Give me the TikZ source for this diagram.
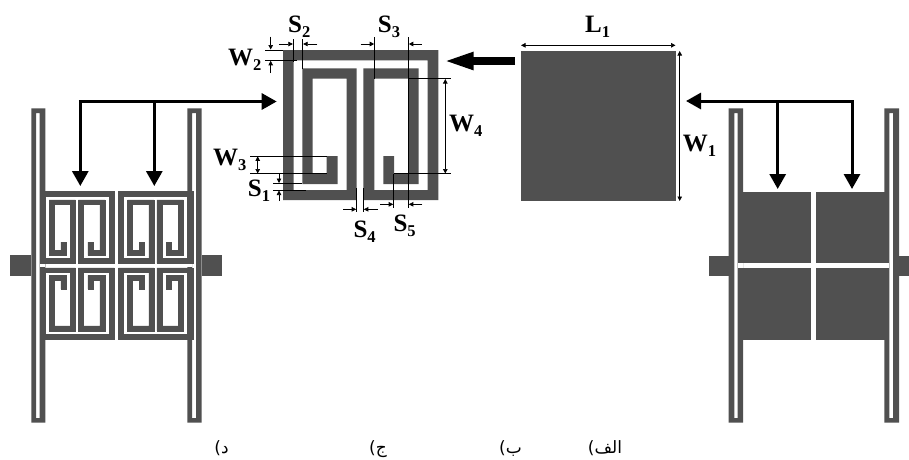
\documentclass[tikz,border=0pt]{standalone}
\usepackage{fontspec}
\setmainfont{Liberation Serif}
\newfontfamily\arabicfont[Script=Arabic]{DejaVu Sans}
\TeXXeTstate=1
\usetikzlibrary{arrows.meta}
\definecolor{metal}{RGB}{80,80,80}
\newcommand{\lab}[2]{\fontsize{25}{25}\selectfont\bfseries #1\raisebox{-5pt}{\fontsize{16.5}{16.5}\selectfont #2}}
\newcommand{\srrpath}{(283,50)--(438.3,50)--(438.3,200)--(363.3,200)--(363.3,68.3)--(418.7,68.3)--(418.7,184)--(383.3,184)--(383.3,156)--(394,156)--(394,173.5)--(408.3,173.5)--(408.3,78.5)--(374.3,78.5)--(374.3,190)--(427.7,190)--(427.7,60.3)--(293.5,60.3)--(293.5,190)--(346.7,190)--(346.7,78.5)--(312.5,78.5)--(312.5,173.5)--(326.7,173.5)--(326.7,156)--(337.7,156)--(337.7,184)--(302.3,184)--(302.3,68.3)--(356.7,68.3)--(356.7,200)--(283,200)--cycle}
\newcommand{\srrcell}[3]{\begin{scope}[shift={(#1,#2)},xscale=.4785,yscale=#3,shift={(-283,-50)}]\fill[metal,draw=metal,line width=.5pt] \srrpath;\end{scope}}
\newcommand{\rod}[4]{\fill[metal,even odd rule] (#1,108.3) rectangle (#2,422.7) (#3,113) rectangle (#4,418);}
\tikzset{
  caption/.style={anchor=base,font=\arabicfont\fontsize{17}{17}\selectfont,inner sep=0pt},
  dimlabel/.style={anchor=base west,inner sep=0pt},
  thin line/.style={draw=black,line width=.6pt},
  small arrow/.style={draw=black,line width=.7pt,-{Triangle[length=4.5pt,width=4.5pt]}},
  both arrow/.style={draw=black,line width=.7pt,{Triangle[length=4.5pt,width=4.5pt]}-{Triangle[length=4.5pt,width=4.5pt]}},
  feed/.style={draw=black,line width=3pt,-{Triangle[length=15pt,width=16pt]}},
  fat/.style={draw=black,line width=7.3pt,-{Triangle[length=30pt,width=16pt]}}
}
\begin{document}
\begin{tikzpicture}[x=1pt,y=-1pt]
\useasboundingbox (0,0) rectangle (909,459);
% --- figure (d): SRR array
\rod{31.3}{45.3}{36.2}{39.6}
\rod{187.3}{201.7}{192.2}{196.2}
\fill[metal] (10,255) rectangle (31.3,275.7);
\fill[metal] (201.7,255) rectangle (221.7,275.7);
\fill[white] (39.6,263.6) rectangle (45.3,267.4);
\fill[white] (187.3,263.6) rectangle (192.2,267.4);
\srrcell{40}{191}{.482}
\srrcell{118.5}{191}{.482}
\srrcell{40}{339.5}{-.478}
\srrcell{118.5}{339.5}{-.478}
% --- central SRR
\fill[metal] \srrpath;
% --- central patch
\fill[metal] (520.7,50.7) rectangle (675.7,200.7);
% --- patch array
\rod{728.7}{743}{734.4}{737.7}
\rod{884.3}{899}{889.4}{893.2}
\fill[metal] (708.7,255.7) rectangle (728.7,275.7);
\fill[metal] (899,255.7) rectangle (909,275.7);
\fill[white] (737.7,263.3) rectangle (743,267.7);
\fill[white] (884.3,263.3) rectangle (889.4,267.7);
\fill[metal] (738,191.7) rectangle (811,263.3);
\fill[metal] (816,191.7) rectangle (889.4,263.3);
\fill[metal] (738,267.7) rectangle (811,339.7);
\fill[metal] (816,267.7) rectangle (889.4,339.7);
% --- feed arrows
\coordinate (la) at (80.3,186);
\coordinate (lb) at (80.3,101.5);
\coordinate (lc) at (276.7,101.5);
\coordinate (ld) at (154.3,101.5);
\coordinate (le) at (154.3,186);
\draw[feed] (lb) -- (la);
\draw[feed] (ld) -- (le);
\draw[feed] (78.8,101.5) -- (lc);
\coordinate (ra) at (686,101);
\coordinate (rb) at (853.5,101);
\coordinate (rc) at (777.7,101);
\coordinate (rd) at (777.7,189);
\coordinate (re) at (852,101);
\coordinate (rf) at (852,189);
\draw[feed] (rb) -- (ra);
\draw[feed] (rc) -- (rd);
\draw[feed] (re) -- (rf);
\coordinate (fa) at (515,61);
\coordinate (fb) at (443.5,61);
\draw[fat] (fa) -- (fb);
% --- extension lines
\draw[thin line] (265,50)--(283,50) (265,60.3)--(296.7,60.3);
\draw[thin line] (293.3,39)--(293.3,62) (302.7,39)--(302.7,68.5);
\draw[thin line] (374.7,37)--(374.7,79) (408.3,37)--(408.3,208);
\draw[thin line] (408.3,78.3)--(450.7,78.3) (394,173.7)--(450.7,173.7);
\draw[thin line] (250,156)--(327,156) (250,173.7)--(327,173.7);
\draw[thin line] (273.3,183.3)--(302.3,183.3) (273.3,190)--(306,190);
\draw[thin line] (356.7,188)--(356.7,211.7) (363.3,188)--(363.3,211.7);
\draw[thin line] (393.7,174)--(393.7,208);
% --- dimension arrows
\draw[small arrow] (270.7,36.7)--(270.7,49.5);
\draw[small arrow] (270.7,73)--(270.7,60.8);
\draw[small arrow] (279.3,44)--(292.8,44);
\draw[small arrow] (317.3,44)--(303.2,44);
\draw[small arrow] (360.7,44)--(374.2,44);
\draw[small arrow] (421.7,44)--(408.8,44);
\draw[both arrow] (445.3,79)--(445.3,173.5);
\draw[both arrow] (257.7,156.3)--(257.7,173.5);
\draw[small arrow] (279,173.3)--(279,183);
\draw[small arrow] (279,201)--(279,190.5);
\draw[small arrow] (343.3,209.3)--(356.2,209.3);
\draw[small arrow] (378,209.3)--(363.8,209.3);
\draw[small arrow] (380,204.3)--(393.2,204.3);
\draw[small arrow] (422.3,204.3)--(408.8,204.3);
\draw[both arrow] (521,45.3)--(675.5,45.3);
\draw[both arrow] (679.7,51)--(679.7,201);
% --- labels
\node[dimlabel] (s2) at (288,32) {\lab{S}{2}};
\node[dimlabel] (w2) at (228,65) {\lab{W}{2}};
\node[dimlabel] (s3) at (377.7,32.7) {\lab{S}{3}};
\node[dimlabel] (w4) at (449,131.7) {\lab{W}{4}};
\node[dimlabel] (w3) at (213,165) {\lab{W}{3}};
\node[dimlabel] (s1) at (247.7,196.7) {\lab{S}{1}};
\node[dimlabel] (s4) at (353.3,237) {\lab{S}{4}};
\node[dimlabel] (s5) at (393.3,231.7) {\lab{S}{5}};
\node[dimlabel] (l1) at (585,32.3) {\lab{L}{1}};
\node[dimlabel] (w1) at (682.7,151.7) {\lab{W}{1}};
% --- captions
\node[caption] (c1) at (221.5,453) {\beginR د)\endR};
\node[caption] (c2) at (378,453) {\beginR ج)\endR};
\node[caption] (c3) at (510.5,453) {\beginR ب)\endR};
\node[caption] (c4) at (605,453) {\beginR الف)\endR};
\end{tikzpicture}
\end{document}
